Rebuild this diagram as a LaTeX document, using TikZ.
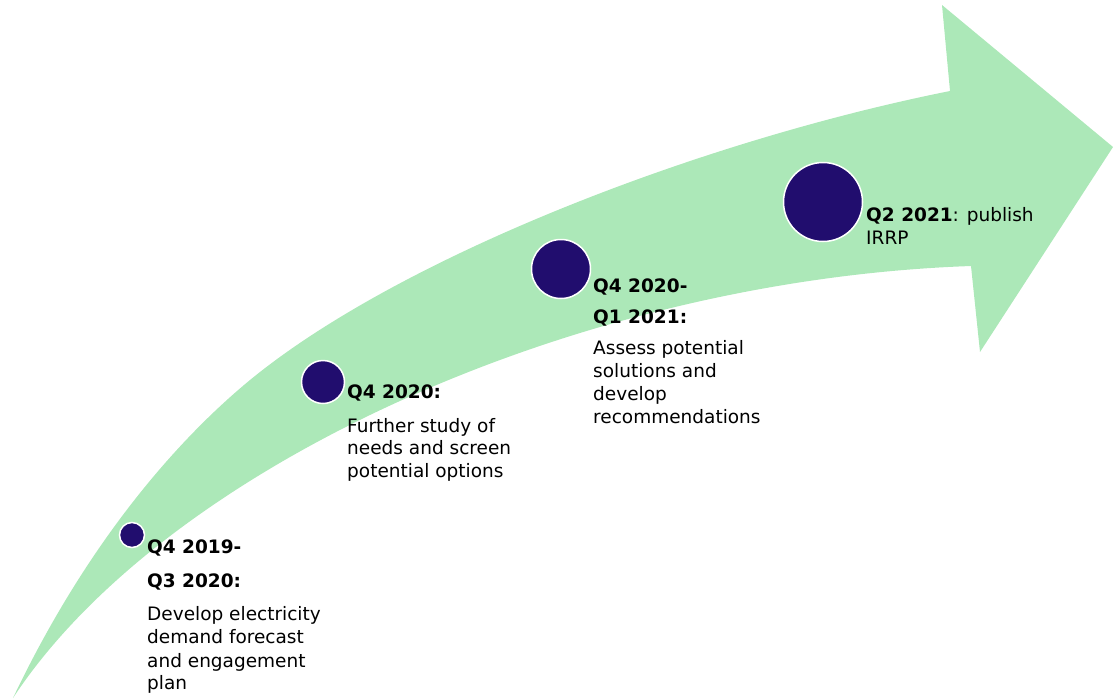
\documentclass[tikz,border=0pt]{standalone}
\usepackage{fontspec}
\setmainfont{DejaVu Sans}
\definecolor{arrowgreen}{RGB}{172,232,184}
\definecolor{dotnavy}{RGB}{33,13,110}
\begin{document}
\begin{tikzpicture}[x=1pt,y=-1pt,
  dot/.style={circle,fill=dotnavy,draw=white,line width=1.5pt,inner sep=0pt},
  lbl/.style={anchor=base west,inner sep=0pt,text=black,font=\fontsize{18.5}{22}\selectfont}]
\useasboundingbox (0,0) rectangle (1113,699);
% big curved arrow
\fill[arrowgreen] (13,698) .. controls (83,551) and (170,446) .. (250,380)
  .. controls (400,257) and (700,141) .. (950,91)
  -- (942,5) -- (1113,147) -- (980,352) -- (971,266)
  .. controls (571,280) and (163,470) .. (13,698) -- cycle;
% milestones
\node[dot,minimum size=25pt] (c1) at (132,535) {};
\node[dot,minimum size=43pt] (c2) at (323,382) {};
\node[dot,minimum size=59pt] (c3) at (561,269) {};
\node[dot,minimum size=79pt] (c4) at (823,202) {};
% texts block 1
\node[lbl] (h1a) at (147,553) {\textbf{Q4 2019-}};
\node[lbl] (h1b) at (147,587) {\textbf{Q3 2020:}};
\node[lbl] (b1a) at (147,620) {Develop electricity};
\node[lbl] (b1b) at (147,643) {demand forecast};
\node[lbl] (b1c) at (147,667) {and engagement};
\node[lbl] (b1d) at (147,689) {plan};
% block 2
\node[lbl] (h2a) at (347,398) {\textbf{Q4 2020:}};
\node[lbl] (b2a) at (347,432) {Further study of};
\node[lbl] (b2b) at (347,454) {needs and screen};
\node[lbl] (b2c) at (347,477) {potential options};
% block 3
\node[lbl] (h3a) at (593,292) {\textbf{Q4 2020-}};
\node[lbl] (h3b) at (593,323) {\textbf{Q1 2021:}};
\node[lbl] (b3a) at (593,354) {Assess potential};
\node[lbl] (b3b) at (593,377) {solutions and};
\node[lbl] (b3c) at (593,400) {develop};
\node[lbl] (b3d) at (593,423) {recommendations};
% block 4
\node[lbl] (h4a) at (866,221) {\textbf{Q2 2021}: publish};
\node[lbl] (b4a) at (866,244) {IRRP};
\end{tikzpicture}
\end{document}
